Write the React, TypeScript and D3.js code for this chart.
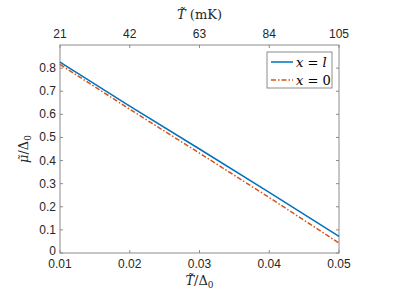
import React from "react";
import * as d3 from "d3";

// values
const ratio = [0.01, 0.02, 0.03, 0.04, 0.05];
const muL = [0.826, 0.636, 0.45, 0.262, 0.072];
const mu0 = [0.816, 0.622, 0.432, 0.24, 0.043];
const bottomTicks = [0.01, 0.02, 0.03, 0.04, 0.05];
const topTicks = [21, 42, 63, 84, 105];
const yTicks = [0, 0.1, 0.2, 0.3, 0.4, 0.5, 0.6, 0.7, 0.8];

const W = 399, H = 299;
const margin = { top: 45, right: 60, bottom: 46, left: 60 };
const iw = W - margin.left - margin.right;
const ih = H - margin.top - margin.bottom;

const axisCol = "#8c8c8c";
const textCol = "#262626";
const tickFont = "Liberation Sans, Arial, sans-serif";
const mathFont = "DejaVu Serif, Liberation Serif, serif";

export default function App() {
  const x = d3.scaleLinear().domain([0.01, 0.05]).range([0, iw]);
  const xTop = d3.scaleLinear().domain([21, 105]).range([0, iw]);
  const y = d3.scaleLinear().domain([0, 0.9]).range([ih, 0]);
  const line = d3
    .line<number>()
    .x((_, i) => x(ratio[i]))
    .y((d) => y(d));
  const tl = 3;

  return (
    <svg width={W} height={H} style={{ position: "absolute", left: 0, top: 0, background: "#fff" }}>
      <g transform={`translate(${margin.left},${margin.top})`}>
        <rect x={0} y={0} width={iw} height={ih} fill="#fff" stroke={axisCol} strokeWidth={1} />
        {bottomTicks.map((t) => (
          <g key={"b" + t}>
            <line x1={x(t)} x2={x(t)} y1={ih} y2={ih - tl} stroke={axisCol} />
            <text x={x(t)} y={ih + 15} textAnchor="middle" fontFamily={tickFont} fontSize={12} fill={textCol}>
              {d3.format(".2f")(t)}
            </text>
          </g>
        ))}
        {topTicks.map((t) => (
          <g key={"t" + t}>
            <line x1={xTop(t)} x2={xTop(t)} y1={0} y2={tl} stroke={axisCol} />
            <text x={xTop(t)} y={-7} textAnchor="middle" fontFamily={tickFont} fontSize={12} fill={textCol}>
              {t}
            </text>
          </g>
        ))}
        {yTicks.map((t) => (
          <g key={"y" + t}>
            <line x1={0} x2={tl} y1={y(t)} y2={y(t)} stroke={axisCol} />
            <line x1={iw} x2={iw - tl} y1={y(t)} y2={y(t)} stroke={axisCol} />
            <text x={-4} y={y(t) + (t === 0 ? 2 : 4)} textAnchor="end" fontFamily={tickFont} fontSize={12} fill={textCol}>
              {t === 0 ? "0" : d3.format(".1f")(t)}
            </text>
          </g>
        ))}
        <path d={line(muL) ?? ""} fill="none" stroke="#0072BD" strokeWidth={1.5} />
        <path d={line(mu0) ?? ""} fill="none" stroke="#D95319" strokeWidth={1.5} strokeDasharray="5,2,1.5,2" />

        {/* legend */}
        <g transform={`translate(${iw - 72},7)`}>
          <rect x={0} y={0} width={65} height={36} fill="#fff" stroke={axisCol} />
          <line x1={4} x2={26} y1={10} y2={10} stroke="#0072BD" strokeWidth={1.5} />
          <line x1={4} x2={26} y1={28} y2={28} stroke="#D95319" strokeWidth={1.5} strokeDasharray="5,2,1.5,2" />
          <text x={29} y={15} fontFamily={mathFont} fontSize={13} fill="#000">
            <tspan fontStyle="italic">x</tspan> = <tspan fontStyle="italic">l</tspan>
          </text>
          <text x={29} y={33} fontFamily={mathFont} fontSize={13} fill="#000">
            <tspan fontStyle="italic">x</tspan> = 0
          </text>
        </g>
      </g>

      {/* axis titles */}
      <text x={margin.left + iw / 2} y={19} textAnchor="middle" fontFamily={mathFont} fontSize={13} fill={textCol}>
        <tspan fontStyle="italic">{"T\u0303"}</tspan> (mK)
      </text>
      <text x={margin.left + iw / 2} y={285} textAnchor="middle" fontFamily={mathFont} fontSize={13} fill={textCol}>
        <tspan fontStyle="italic">{"T\u0303"}</tspan>/Δ<tspan fontSize={9} dy={3}>0</tspan>
      </text>
      <text
        transform={`translate(28,${margin.top + ih / 2}) rotate(-90)`}
        textAnchor="middle"
        fontFamily={mathFont}
        fontSize={13}
        fill={textCol}
      >
        <tspan fontStyle="italic">{"\u03bc\u0303"}</tspan>/Δ<tspan fontSize={9} dy={3}>0</tspan>
      </text>
    </svg>
  );
}
